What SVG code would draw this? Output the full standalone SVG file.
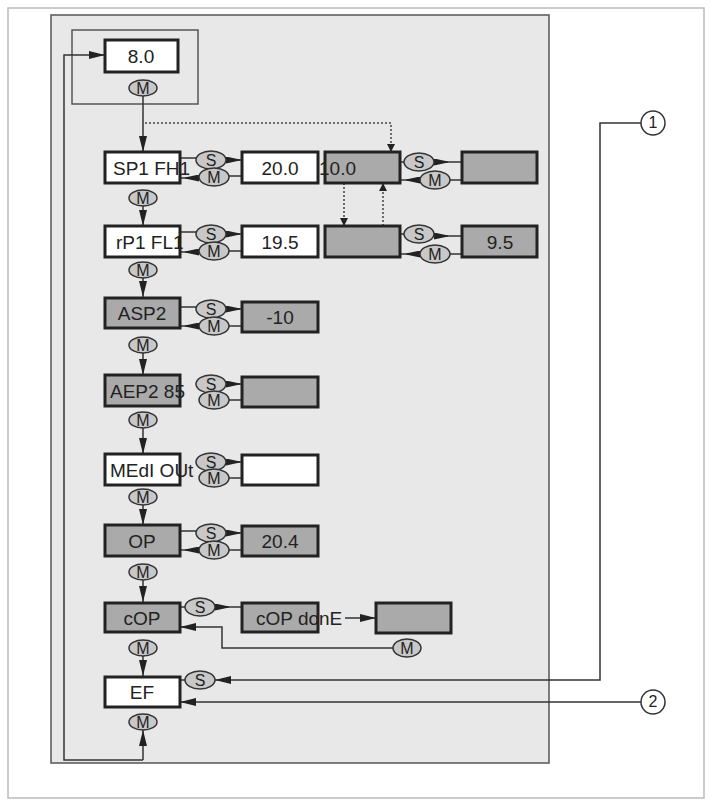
<svg xmlns="http://www.w3.org/2000/svg" width="712" height="804" viewBox="0 0 712 804">
<style>
.b{stroke:#222;stroke-width:3}
.w{fill:#fff}.g{fill:#aaa}
.o{fill:#c8c8c8;stroke:#333;stroke-width:1.5}
text{font-family:"Liberation Sans",Arial,sans-serif;fill:#222}
.t{font-size:19px;text-anchor:middle}
.s{font-size:16px;text-anchor:middle}
.l{fill:none;stroke:#333;stroke-width:1.5}
.d{fill:none;stroke:#444;stroke-width:1.5;stroke-dasharray:2 2}
</style>
<defs>
<marker id="a" viewBox="0 0 10 10" refX="10" refY="5" markerWidth="8" markerHeight="10" orient="auto" markerUnits="userSpaceOnUse"><path d="M0,0L10,5L0,10z" fill="#222"/></marker>
<marker id="h" viewBox="0 0 20 10" refX="20" refY="5" markerWidth="18" markerHeight="8" orient="auto" markerUnits="userSpaceOnUse"><path d="M0,0L20,5L0,10z" fill="#222"/></marker>
<marker id="A" viewBox="0 0 20 10" refX="20" refY="5" markerWidth="22" markerHeight="7" orient="auto" markerUnits="userSpaceOnUse"><path d="M0,4.3L20,0L20,10L0,5.7z" fill="#222"/></marker>
<marker id="W" viewBox="0 0 20 10" refX="0" refY="5" markerWidth="22" markerHeight="7" orient="auto" markerUnits="userSpaceOnUse"><path d="M0,0L20,4.3L20,5.7L0,10z" fill="#222"/></marker>
</defs>
<rect x="0" y="0" width="712" height="804" fill="#fff"/>
<rect x="8" y="8" width="696" height="790" fill="none" stroke="#bbb" stroke-width="1.5"/>
<rect x="51" y="15" width="498" height="748" fill="#e8e8e8" stroke="#555" stroke-width="1.5"/>
<rect x="72" y="30" width="126" height="74" fill="none" stroke="#555" stroke-width="1.5"/>
<g id="connectors">
<path class="l" d="M143,96V152" marker-end="url(#h)"/>
<path class="d" d="M145,123H391V152" marker-end="url(#a)"/>
<path class="d" d="M344,183V226" marker-end="url(#a)"/>
<path class="d" d="M383,226V183" marker-end="url(#a)"/>
<path class="l" d="M143,206V226" marker-end="url(#h)"/>
<path class="l" d="M143,278V297" marker-end="url(#h)"/>
<path class="l" d="M143,353V375" marker-end="url(#h)"/>
<path class="l" d="M143,428V454" marker-end="url(#h)"/>
<path class="l" d="M143,505V525" marker-end="url(#h)"/>
<path class="l" d="M143,580V602" marker-end="url(#h)"/>
<path class="l" d="M143,656V676" marker-end="url(#h)"/>
<path class="l" d="M143,760V730" marker-end="url(#h)"/>
<path class="l" d="M143,760H64V55H105" marker-end="url(#h)"/>
<path class="l" d="M180,158H197"/><path class="l" d="M180,178H199" marker-end="url(#A)"/>
<path class="l" d="M226,160H242" marker-start="url(#W)"/><path class="l" d="M229,176H242"/>
<path class="l" d="M180,232H197"/><path class="l" d="M180,252H199" marker-end="url(#A)"/>
<path class="l" d="M226,234H242" marker-start="url(#W)"/><path class="l" d="M229,251H242"/>
<path class="l" d="M180,307H197"/><path class="l" d="M180,326H199" marker-end="url(#A)"/>
<path class="l" d="M226,309H242" marker-start="url(#W)"/><path class="l" d="M229,326H242"/>
<path class="l" d="M226,384H242" marker-start="url(#W)"/><path class="l" d="M229,400H242"/>
<path class="l" d="M226,462H242" marker-start="url(#W)"/><path class="l" d="M229,478H242"/>
<path class="l" d="M180,531H197"/><path class="l" d="M180,550H199" marker-end="url(#A)"/>
<path class="l" d="M226,533H242" marker-start="url(#W)"/><path class="l" d="M229,550H242"/>
<path class="l" d="M400,162H405"/><path class="l" d="M434,162H462" marker-start="url(#W)"/>
<path class="l" d="M400,180H420" marker-end="url(#A)"/><path class="l" d="M450,180H462"/>
<path class="l" d="M400,234H405"/><path class="l" d="M434,236H462" marker-start="url(#W)"/>
<path class="l" d="M400,254H420" marker-end="url(#A)"/><path class="l" d="M450,254H462"/>
<path class="l" d="M180,607H186"/><path class="l" d="M215,607H242" marker-start="url(#W)"/>
<path class="l" d="M345,618H376" marker-end="url(#h)"/>
<path class="l" d="M393,648H222V627H180" marker-end="url(#h)"/>
<path class="l" d="M180,680H186"/>
<path class="l" d="M641,123H600V680H215" marker-end="url(#h)"/>
<path class="l" d="M641,702H180" marker-end="url(#h)"/>
</g>
<g id="n80"><rect class="b w" x="105" y="40" width="73" height="32"/><text class="t" x="141" y="63">8.0</text></g>
<g id="n1"><rect class="b w" x="105" y="152" width="75" height="31"/><text class="t" x="113" y="175" style="text-anchor:start">SP1 FH1</text></g>
<g id="n2"><rect class="b w" x="242" y="152" width="76" height="31"/><text class="t" x="280" y="175">20.0</text></g>
<g id="n3"><rect class="b g" x="325" y="152" width="75" height="31"/><text class="t" x="319" y="175" style="text-anchor:start">10.0</text></g>
<g id="n4"><rect class="b g" x="462" y="152" width="75" height="31"/></g>
<g id="n5"><rect class="b w" x="105" y="226" width="75" height="31"/><text class="t" x="116" y="249" style="text-anchor:start">rP1 FL1</text></g>
<g id="n6"><rect class="b w" x="242" y="226" width="76" height="31"/><text class="t" x="280" y="249">19.5</text></g>
<g id="n7"><rect class="b g" x="325" y="226" width="75" height="31"/></g>
<g id="n8"><rect class="b g" x="462" y="226" width="75" height="31"/><text class="t" x="500" y="249">9.5</text></g>
<g id="n9"><rect class="b g" x="105" y="298" width="75" height="30"/><text class="t" x="142" y="320">ASP2</text></g>
<g id="n10"><rect class="b g" x="242" y="302" width="76" height="30"/><text class="t" x="280" y="324">-10</text></g>
<g id="n11"><rect class="b g" x="105" y="375" width="75" height="31"/><text class="t" x="110" y="398" style="text-anchor:start">AEP2 85</text></g>
<g id="n12"><rect class="b g" x="242" y="377" width="76" height="30"/></g>
<g id="n13"><rect class="b w" x="105" y="454" width="75" height="31"/><text class="t" x="110" y="477" style="text-anchor:start">MEdI OUt 2</text></g>
<g id="n14"><rect class="b w" x="242" y="455" width="76" height="30"/></g>
<g id="n15"><rect class="b g" x="105" y="525" width="75" height="31"/><text class="t" x="142" y="548">OP</text></g>
<g id="n16"><rect class="b g" x="242" y="526" width="76" height="30"/><text class="t" x="280" y="548">20.4</text></g>
<g id="n17"><rect class="b g" x="105" y="603" width="75" height="29"/><text class="t" x="142" y="625">cOP</text></g>
<g id="n18"><rect class="b g" x="242" y="603" width="76" height="29"/><text class="t" x="256" y="625" style="text-anchor:start">cOP donE</text></g>
<g id="n19"><rect class="b g" x="376" y="603" width="75" height="30"/></g>
<g id="n20"><rect class="b w" x="105" y="677" width="75" height="30"/><text class="t" x="142" y="699">EF</text></g>
<g id="ovals">
<ellipse class="o" cx="143" cy="88" rx="14" ry="8"/><text class="s" x="143" y="94">M</text>
<ellipse class="o" cx="211" cy="160" rx="15" ry="9"/><text class="s" x="211" y="166">S</text>
<ellipse class="o" cx="214" cy="177" rx="15" ry="9"/><text class="s" x="214" y="183">M</text>
<ellipse class="o" cx="143" cy="198" rx="14" ry="8"/><text class="s" x="143" y="204">M</text>
<ellipse class="o" cx="211" cy="234" rx="15" ry="9"/><text class="s" x="211" y="240">S</text>
<ellipse class="o" cx="214" cy="251" rx="15" ry="9"/><text class="s" x="214" y="257">M</text>
<ellipse class="o" cx="143" cy="270" rx="14" ry="8"/><text class="s" x="143" y="276">M</text>
<ellipse class="o" cx="211" cy="309" rx="15" ry="9"/><text class="s" x="211" y="315">S</text>
<ellipse class="o" cx="214" cy="326" rx="15" ry="9"/><text class="s" x="214" y="332">M</text>
<ellipse class="o" cx="143" cy="345" rx="14" ry="8"/><text class="s" x="143" y="351">M</text>
<ellipse class="o" cx="211" cy="384" rx="15" ry="9"/><text class="s" x="211" y="390">S</text>
<ellipse class="o" cx="214" cy="400" rx="15" ry="9"/><text class="s" x="214" y="406">M</text>
<ellipse class="o" cx="143" cy="420" rx="14" ry="8"/><text class="s" x="143" y="426">M</text>
<ellipse class="o" cx="211" cy="462" rx="15" ry="9"/><text class="s" x="211" y="468">S</text>
<ellipse class="o" cx="214" cy="478" rx="15" ry="9"/><text class="s" x="214" y="484">M</text>
<ellipse class="o" cx="143" cy="497" rx="14" ry="8"/><text class="s" x="143" y="503">M</text>
<ellipse class="o" cx="211" cy="533" rx="15" ry="9"/><text class="s" x="211" y="539">S</text>
<ellipse class="o" cx="214" cy="550" rx="15" ry="9"/><text class="s" x="214" y="556">M</text>
<ellipse class="o" cx="143" cy="572" rx="14" ry="8"/><text class="s" x="143" y="578">M</text>
<ellipse class="o" cx="200" cy="607" rx="15" ry="9"/><text class="s" x="200" y="613">S</text>
<ellipse class="o" cx="143" cy="648" rx="14" ry="8"/><text class="s" x="143" y="654">M</text>
<ellipse class="o" cx="407" cy="648" rx="14" ry="9"/><text class="s" x="407" y="654">M</text>
<ellipse class="o" cx="200" cy="680" rx="15" ry="9"/><text class="s" x="200" y="686">S</text>
<ellipse class="o" cx="143" cy="722" rx="14" ry="8"/><text class="s" x="143" y="728">M</text>
<ellipse class="o" cx="419" cy="162" rx="15" ry="9"/><text class="s" x="419" y="168">S</text>
<ellipse class="o" cx="435" cy="180" rx="15" ry="9"/><text class="s" x="435" y="186">M</text>
<ellipse class="o" cx="419" cy="234" rx="15" ry="9"/><text class="s" x="419" y="240">S</text>
<ellipse class="o" cx="435" cy="254" rx="15" ry="9"/><text class="s" x="435" y="260">M</text>
</g>
<g id="callout1"><circle cx="653" cy="123" r="12" fill="#fff" stroke="#333" stroke-width="1.5"/><text class="s" x="653" y="128">1</text></g>
<g id="callout2"><circle cx="653" cy="702" r="12" fill="#fff" stroke="#333" stroke-width="1.5"/><text class="s" x="653" y="707">2</text></g>
</svg>
